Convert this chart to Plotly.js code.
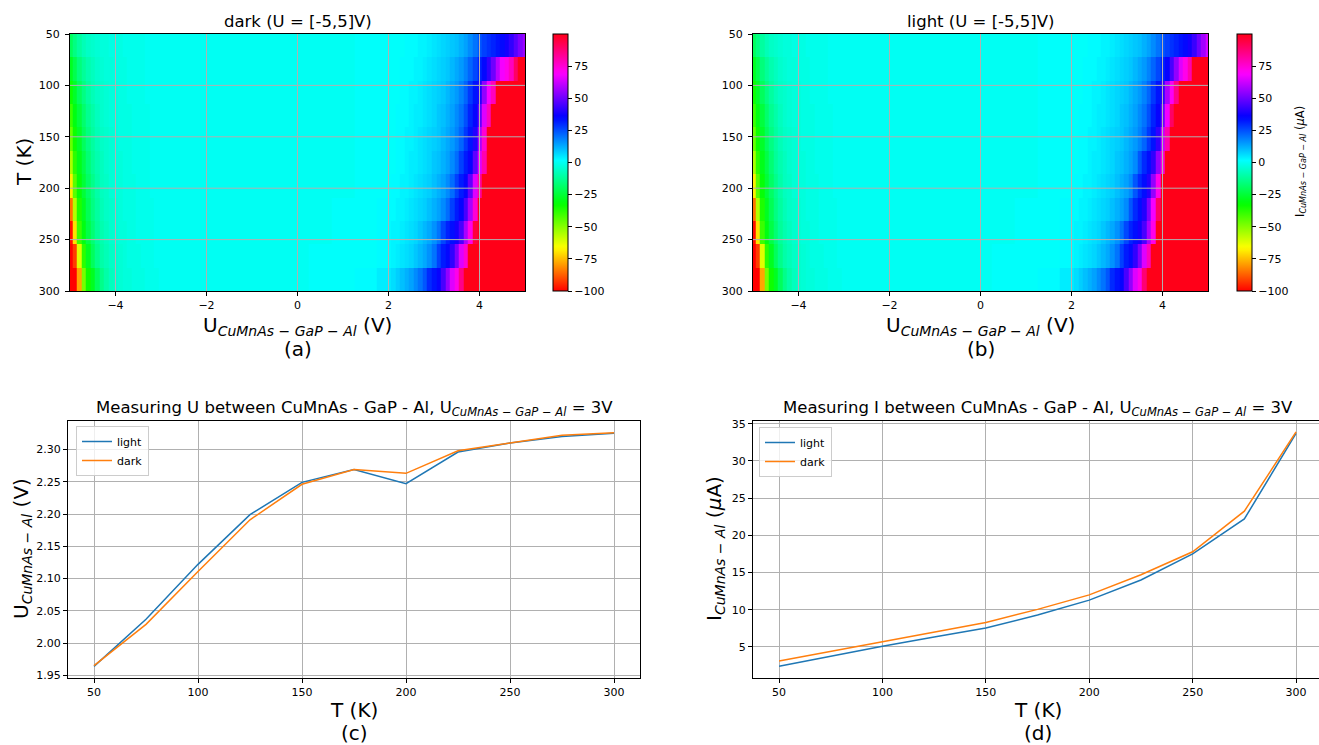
<!DOCTYPE html>
<html>
<head>
<meta charset="utf-8">
<script src="https://cdn.plot.ly/plotly-3.0.1.min.js"></script>
<style>
html,body{margin:0;padding:0;background:#fff;}
#chart{width:1319px;height:745px;}
</style>
</head>
<body>
<div id="chart"></div>
<script>
// ---------- DATA ----------
// Voltage sample grid (V): fine near the edges, coarse in the flat middle
const uGrid = [-5.0,-4.9,-4.8,-4.7,-4.6,-4.5,-4.4,-4.3,-4.2,-4.1,-4.0,-3.9,-3.8,-3.7,-3.6,-3.5,-3.4,-3.3,-3.2,-3.1,-3.0,
  -2.5,-2.0,-1.5,-1.0,-0.5,0,0.5,1.0,1.5,
  2.0,2.1,2.2,2.3,2.4,2.5,2.6,2.7,2.8,2.9,3.0,3.1,3.2,3.3,3.4,3.5,3.6,3.7,3.8,3.9,4.0,4.1,4.2,4.3,4.4,4.5,4.6,4.7,4.8,4.9,5.0];

// Temperature rows (K), top to bottom
const tempRows = [50,75,100,125,150,175,200,225,250,275,300];

// Current I (uA), dark, one row per temperature
const iDark = [
 [-20,-15,-11,-8,-6,-5,-4,-3,-3,-2,-2,-2,-1,-1,-1,-1,-1,0,0,0,0, 0,0,0,0,0,0,0,0,1, 1,1,1,1,2,2,2,3,3,4,5,6,7,8,9,10,12,14,17,20,24,27,29,31,33,35,38,42,47,52,56],
 [-28,-22,-16,-12,-9,-7,-5,-4,-3,-3,-2,-2,-2,-1,-1,-1,-1,0,0,0,0, 0,0,0,0,0,0,0,0,1, 1,1,1,2,2,2,3,3,4,5,6,7,8,9,11,13,15,18,22,26,31,35,42,50,60,68,72,78,90,110,120],
 [-34,-27,-20,-15,-11,-8,-6,-5,-4,-3,-3,-2,-2,-1,-1,-1,-1,0,0,0,0, 0,0,0,0,0,0,0,0,1, 1,1,1,2,2,3,3,4,5,6,7,8,9,11,13,15,18,22,28,33,40,55,68,78,100,115,120,120,120,120,120],
 [-40,-30,-24,-18,-13,-10,-7,-5,-4,-3,-3,-2,-2,-2,-1,-1,-1,-1,0,0,0, 0,0,0,0,0,0,0,0,1, 1,1,2,2,2,3,4,4,5,6,7,9,10,12,14,17,20,25,31,36,48,65,78,105,120,120,120,120,120,120,120],
 [-46,-34,-27,-20,-15,-11,-8,-6,-5,-4,-3,-2,-2,-2,-1,-1,-1,-1,0,0,0, 0,0,0,0,0,0,0,0,1, 1,1,2,2,3,3,4,5,6,7,8,9,11,13,15,18,22,28,33,40,58,75,100,120,120,120,120,120,120,120,120],
 [-55,-38,-29,-23,-17,-12,-9,-7,-5,-4,-3,-3,-2,-2,-1,-1,-1,-1,0,0,0, 0,0,0,0,0,0,0,0,1, 1,1,2,2,3,4,4,5,6,7,9,10,12,14,17,21,27,32,36,48,65,80,120,120,120,120,120,120,120,120,120],
 [-68,-44,-32,-25,-19,-14,-10,-7,-6,-4,-3,-3,-2,-2,-2,-1,-1,-1,0,0,0, 0,0,0,0,0,0,0,0,1, 1,2,2,3,3,4,5,6,7,8,10,12,14,17,21,27,32,36,48,65,82,120,120,120,120,120,120,120,120,120,120],
 [-85,-56,-36,-28,-21,-15,-11,-8,-6,-5,-4,-3,-2,-2,-2,-1,-1,-1,-1,0,0, 0,0,0,0,0,0,0,1,1, 2,2,3,3,4,5,6,7,8,10,12,14,17,21,27,32,36,45,58,75,120,120,120,120,120,120,120,120,120,120,120],
 [-98,-70,-40,-30,-23,-17,-12,-9,-7,-5,-4,-3,-3,-2,-2,-1,-1,-1,-1,0,0, 0,0,0,0,0,0,0,1,1, 2,3,3,4,5,6,7,9,11,13,16,20,26,31,34,38,45,58,72,95,120,120,120,120,120,120,120,120,120,120,120],
 [-105,-92,-62,-38,-28,-20,-14,-10,-8,-6,-5,-4,-3,-2,-2,-2,-1,-1,-1,0,0, 0,0,0,0,0,0,1,1,1, 2,3,4,5,6,7,9,11,13,16,20,27,32,35,42,52,65,75,100,120,120,120,120,120,120,120,120,120,120,120,120],
 [-110,-102,-78,-48,-34,-28,-20,-14,-10,-7,-5,-4,-3,-3,-2,-2,-2,-1,-1,-1,0, 0,0,0,0,0,0,1,1,2, 4,6,8,10,12,14,17,20,24,30,33,36,45,55,65,72,85,120,120,120,120,120,120,120,120,120,120,120,120,120,120]
];

// Current I (uA), light
const iLight = [
 [-20,-15,-11,-8,-6,-5,-4,-3,-3,-2,-2,-2,-1,-1,-1,-1,-1,0,0,0,0, 0,0,0,0,0,0,0,0,1, 1,1,1,1,2,2,2,3,3,4,5,6,7,8,9,10,12,14,17,20,24,27,29,31,33,35,38,43,50,57,64],
 [-28,-22,-16,-12,-9,-7,-5,-4,-3,-3,-2,-2,-2,-1,-1,-1,-1,0,0,0,0, 0,0,0,0,0,0,0,0,1, 1,1,1,2,2,2,3,3,4,5,6,7,8,9,11,13,15,18,22,26,31,36,45,55,65,72,80,105,120,120,120],
 [-34,-27,-20,-15,-11,-8,-6,-5,-4,-3,-3,-2,-2,-1,-1,-1,-1,0,0,0,0, 0,0,0,0,0,0,0,0,1, 1,1,1,2,2,3,3,4,5,6,7,8,9,11,13,15,18,22,28,33,42,58,70,85,110,120,120,120,120,120,120],
 [-40,-30,-24,-18,-13,-10,-7,-5,-4,-3,-3,-2,-2,-2,-1,-1,-1,-1,0,0,0, 0,0,0,0,0,0,0,0,1, 1,1,2,2,2,3,4,4,5,6,7,9,10,12,14,17,20,25,31,36,50,68,90,120,120,120,120,120,120,120,120],
 [-46,-34,-27,-20,-15,-11,-8,-6,-5,-4,-3,-2,-2,-2,-1,-1,-1,-1,0,0,0, 0,0,0,0,0,0,0,0,1, 1,1,2,2,3,3,4,5,6,7,8,9,11,13,15,18,22,28,33,42,62,80,120,120,120,120,120,120,120,120,120],
 [-55,-38,-29,-23,-17,-12,-9,-7,-5,-4,-3,-3,-2,-2,-1,-1,-1,-1,0,0,0, 0,0,0,0,0,0,0,0,1, 1,1,2,2,3,4,4,5,6,7,9,10,12,14,17,24,30,34,42,55,75,120,120,120,120,120,120,120,120,120,120],
 [-68,-44,-32,-25,-19,-14,-10,-7,-6,-4,-3,-3,-2,-2,-2,-1,-1,-1,0,0,0, 0,0,0,0,0,0,0,0,1, 1,2,2,3,3,4,5,6,7,8,10,12,14,17,24,30,34,40,55,72,100,120,120,120,120,120,120,120,120,120,120],
 [-85,-56,-36,-28,-21,-15,-11,-8,-6,-5,-4,-3,-2,-2,-2,-1,-1,-1,-1,0,0, 0,0,0,0,0,0,0,1,1, 2,2,3,3,4,5,6,7,8,10,12,14,17,24,30,34,40,52,68,90,120,120,120,120,120,120,120,120,120,120,120],
 [-98,-70,-40,-30,-23,-17,-12,-9,-7,-5,-4,-3,-3,-2,-2,-1,-1,-1,-1,0,0, 0,0,0,0,0,0,0,1,1, 2,3,3,4,5,6,7,9,11,13,16,20,26,31,34,38,45,58,72,100,120,120,120,120,120,120,120,120,120,120,120],
 [-105,-92,-62,-38,-28,-20,-14,-10,-8,-6,-5,-4,-3,-2,-2,-2,-1,-1,-1,0,0, 0,0,0,0,0,0,1,1,1, 2,3,4,5,6,7,9,11,13,16,20,27,32,35,42,52,65,78,105,120,120,120,120,120,120,120,120,120,120,120,120],
 [-110,-102,-78,-48,-34,-28,-20,-14,-10,-7,-5,-4,-3,-3,-2,-2,-2,-1,-1,-1,0, 0,0,0,0,0,0,1,1,2, 4,6,8,10,12,14,17,20,24,30,33,36,45,55,65,72,88,120,120,120,120,120,120,120,120,120,120,120,120,120,120]
];

// Line plots: T (K)
const tempK = [50,75,100,125,150,175,200,225,250,275,300];
const uLight = [1.964,2.037,2.122,2.199,2.249,2.269,2.247,2.296,2.310,2.320,2.325];
const uDark  = [1.965,2.029,2.111,2.191,2.246,2.269,2.263,2.298,2.310,2.322,2.326];
const iLightLine = [2.4,3.8,5.1,6.35,7.55,9.3,11.3,14.0,17.5,22.2,33.7];
const iDarkLine  = [3.1,4.4,5.75,7.0,8.3,10.05,12.0,14.7,17.8,23.25,33.9];

// Tick labels
const uTicks = [-4,-2,0,2,4];
const tTicks = [50,100,150,200,250,300];
const cbTicks = [-100,-75,-50,-25,0,25,50,75];
const tLineTicks = [50,100,150,200,250,300];
const uLineTicks = [1.95,2.00,2.05,2.10,2.15,2.20,2.25,2.30];
const iLineTicks = [5,10,15,20,25,30,35];

// ---------- STYLE ----------
const W = 1319, H = 745;
const FONT = 'DejaVu Sans, Liberation Sans, sans-serif';
const px = v => v / W;
const py = v => 1 - v / H;
const TICK = 11;

// matplotlib "hsv" colormap
const hsvScale = [
 [0,'rgb(255,0,0)'],[0.15873,'rgb(255,239,0)'],[0.174603,'rgb(247,255,0)'],
 [0.333333,'rgb(8,255,0)'],[0.349206,'rgb(0,255,16)'],[0.507937,'rgb(0,255,255)'],
 [0.666667,'rgb(0,16,255)'],[0.68254,'rgb(8,0,255)'],[0.84127,'rgb(247,0,255)'],
 [0.857143,'rgb(255,0,239)'],[1,'rgb(255,0,24)']
];

const tMin = tempRows[0], tMax = tempRows[tempRows.length-1];
const rowH = (tMax - tMin) / tempRows.length;

function cbar(xPix){
  return {x: px(xPix), xanchor:'left', xref:'paper', y: py(291), yanchor:'bottom', yref:'paper',
    len: 257/H, lenmode:'fraction', thickness:15, thicknessmode:'pixels',
    outlinewidth:1, outlinecolor:'#000', xpad:0, ypad:0, borderwidth:0,
    ticks:'outside', ticklen:4, tickcolor:'#000', tickvals: cbTicks,
    tickfont:{family:FONT, size:TICK, color:'#000'}};
}

const heatCommon = {type:'heatmap', x: uGrid, y0: tMin + rowH/2, dy: rowH,
  zmin:-100, zmax:100, colorscale: hsvScale, zsmooth:false, hoverinfo:'skip'};

const traces = [
  Object.assign({}, heatCommon, {z: iDark, xaxis:'x', yaxis:'y', colorbar: cbar(553)}),
  Object.assign({}, heatCommon, {z: iLight, xaxis:'x2', yaxis:'y2', colorbar: cbar(1237)}),
  {type:'scatter', mode:'lines', x: tempK, y: uLight, name:'light', line:{color:'#1f77b4', width:1.5}, xaxis:'x3', yaxis:'y3', legend:'legend'},
  {type:'scatter', mode:'lines', x: tempK, y: uDark, name:'dark', line:{color:'#ff7f0e', width:1.5}, xaxis:'x3', yaxis:'y3', legend:'legend'},
  {type:'scatter', mode:'lines', x: tempK, y: iLightLine, name:'light', line:{color:'#1f77b4', width:1.5}, xaxis:'x4', yaxis:'y4', legend:'legend2'},
  {type:'scatter', mode:'lines', x: tempK, y: iDarkLine, name:'dark', line:{color:'#ff7f0e', width:1.5}, xaxis:'x4', yaxis:'y4', legend:'legend2'}
];

function axis(extra){
  return Object.assign({showline:true, linecolor:'#000', linewidth:1, mirror:true,
    ticks:'outside', ticklen:4, tickcolor:'#000', tickwidth:1,
    zeroline:false, showgrid:false, gridcolor:'#b0b0b0', gridwidth:1,
    tickfont:{family:FONT, size:TICK, color:'#000'}, fixedrange:true}, extra);
}

const topDomY = [py(291), py(34)];
const botDomY = [py(678), py(421)];

const legendStyle = {xanchor:'left', yanchor:'top', bgcolor:'rgba(255,255,255,0.8)',
  bordercolor:'#cccccc', borderwidth:1, font:{family:FONT, size:11, color:'#000'},
  itemwidth:30, tracegroupgap:0};

const layout = {
  width: W, height: H,
  margin:{l:0, r:0, t:0, b:0, pad:0},
  paper_bgcolor:'#fff', plot_bgcolor:'#fff',
  font:{family:FONT, color:'#000'},
  xaxis: axis({domain:[px(70), px(525)], anchor:'y', range:[-5,5], tickvals:uTicks}),
  yaxis: axis({domain: topDomY, anchor:'x', range:[tMax, tMin], tickvals:tTicks, ticklabelstandoff:3}),
  xaxis2: axis({domain:[px(753), px(1208)], anchor:'y2', range:[-5,5], tickvals:uTicks}),
  yaxis2: axis({domain: topDomY, anchor:'x2', range:[tMax, tMin], tickvals:tTicks, ticklabelstandoff:3}),
  xaxis3: axis({domain:[px(68), px(640)], anchor:'y3', range:[37.5,312.5], tickvals:tLineTicks, showgrid:true}),
  yaxis3: axis({domain: botDomY, anchor:'x3', range:[1.9459,2.3441], tickvals:uLineTicks, tickformat:'.2f', showgrid:true}),
  xaxis4: axis({domain:[px(753), 1], anchor:'y4', range:[37.4,311.1], tickvals:tLineTicks, showgrid:true}),
  yaxis4: axis({domain: botDomY, anchor:'x4', range:[0.83,35.37], tickvals:iLineTicks, showgrid:true, mirror:false}),
  legend: Object.assign({x:px(76), y:py(426)}, legendStyle),
  legend2: Object.assign({x:px(759), y:py(427)}, legendStyle),
  shapes: [],
  annotations: []
};

// grid lines drawn above the heatmaps (as matplotlib does)
[['x','y'],['x2','y2']].forEach(([xa,ya])=>{
  uTicks.forEach(v=>layout.shapes.push({type:'line', layer:'above', xref:xa, yref:ya+' domain', x0:v, x1:v, y0:0, y1:1, line:{color:'#b0b0b0', width:1}}));
  tTicks.slice(1,-1).forEach(v=>layout.shapes.push({type:'line', layer:'above', xref:xa+' domain', yref:ya, x0:0, x1:1, y0:v, y1:v, line:{color:'#b0b0b0', width:1}}));
});

function ann(text, x, y, size, angle){
  return {text, x:px(x), y:py(y), xref:'paper', yref:'paper', showarrow:false,
    xanchor:'center', yanchor:'middle', textangle: angle||0,
    font:{family:FONT, size, color:'#000'}};
}
const sub1 = '<sub><i>CuMnAs − GaP − Al</i></sub>';
const sub2 = '<sub><i>CuMnAs − Al</i></sub>';
const TS = 16.5, AS = 20;
layout.annotations.push(
  ann('dark (U = [-5,5]V)', 297.5, 21, TS),
  ann('light (U = [-5,5]V)', 980.5, 21, TS),
  ann('T (K)', 24, 162, AS, -90),
  ann('U' + sub1 + ' (V)', 297.5, 326, AS),
  ann('(a)', 297.5, 349, AS),
  ann('U' + sub1 + ' (V)', 980.5, 326, AS),
  ann('(b)', 980.5, 349, AS),
  ann('I' + sub1 + ' (<i>μ</i>A)', 1301, 162, 11.5, -90),
  ann('Measuring U between CuMnAs - GaP - Al, U' + sub1 + ' = 3V', 354, 408, TS),
  ann('Measuring I between CuMnAs - GaP - Al, U' + sub1 + ' = 3V', 1037.5, 408, TS),
  ann('U' + sub2 + ' (V)', 22, 549, AS, -90),
  ann('I' + sub2 + ' (<i>μ</i>A)', 715, 549, AS, -90),
  ann('T (K)', 354, 710, AS),
  ann('(c)', 354, 733, AS),
  ann('T (K)', 1037.5, 710, AS),
  ann('(d)', 1037.5, 733, AS)
);

Plotly.newPlot('chart', traces, layout, {displayModeBar:false, staticPlot:true});
</script>
</body>
</html>
